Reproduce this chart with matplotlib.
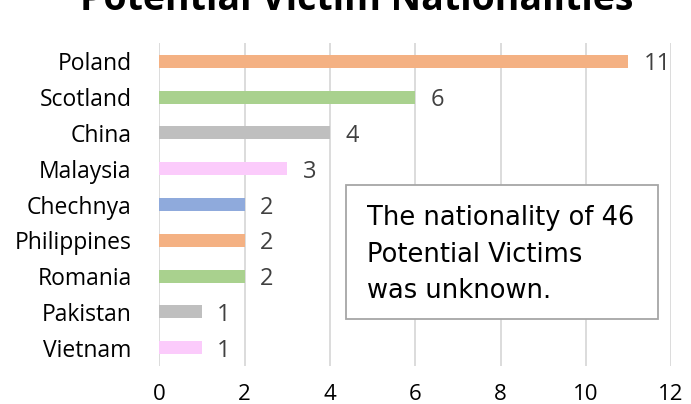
import matplotlib
matplotlib.use("Agg")
import matplotlib.pyplot as plt
from matplotlib.patches import Rectangle

categories = ["Poland", "Scotland", "China", "Malaysia", "Chechnya",
              "Philippines", "Romania", "Pakistan", "Vietnam"]
values = [11, 6, 4, 3, 2, 2, 2, 1, 1]
colors = ["#F4B183", "#A9D18E", "#BFBFBF", "#FBCBFB", "#8FAADC",
          "#F4B183", "#A9D18E", "#BFBFBF", "#FBCBFB"]
xticks = [0, 2, 4, 6, 8, 10, 12]
title = "Potential Victim Nationalities"
note_lines = ["The nationality of 46", "Potential Victims", "was unknown."]

plt.rcParams['font.family'] = ['Open Sans', 'DejaVu Sans']

W, H = 691, 404
fig = plt.figure(figsize=(W / 100, H / 100), dpi=100)

def fx(px):
    return px / W

def fy(py):
    return 1 - py / H

left, right, top, bottom = 159.3, 671.1, 43.4, 365.6
ax = fig.add_axes([fx(left), fy(bottom), fx(right - left), (bottom - top) / H])

ypos = list(range(len(categories)))
ax.barh(ypos, values, height=0.36, color=colors, zorder=3)
ax.set_ylim(len(categories) - 0.5, -0.5)
ax.set_xlim(0, 12)
ax.set_xticks(xticks)
ax.set_yticks(ypos)
ax.set_yticklabels(categories, fontsize=16.5, color="#000000")
ax.tick_params(axis='x', labelsize=16, length=0, pad=13.5, colors="#000000")
ax.tick_params(axis='y', length=0, pad=20)
ax.grid(axis='x', color="#D9D9D9", linewidth=1.3, zorder=0)
for s in ax.spines.values():
    s.set_visible(False)

for y, v in zip(ypos, values):
    ax.annotate(str(v), xy=(v, y), xytext=(11, 0), textcoords='offset points',
                va='center_baseline', ha='left', fontsize=17,
                color="#404040", zorder=4)

fig.text(fx(357), fy(10), title, ha='center', va='baseline',
         fontsize=27, fontweight='bold', color="#000000")

# note box
fig.patches.append(Rectangle((fx(345.7), fy(319)), fx(658 - 345.7), (319 - 185) / H,
                             transform=fig.transFigure, facecolor='white',
                             edgecolor='#A6A6A6', linewidth=1.3, zorder=5))
for line, base in zip(note_lines, [225, 261.7, 298.3]):
    fig.text(fx(366.7), fy(base), line, ha='left', va='baseline',
             fontsize=18.5, family='DejaVu Sans', color="#000000", zorder=6)

fig.savefig("out.png", dpi=100)
